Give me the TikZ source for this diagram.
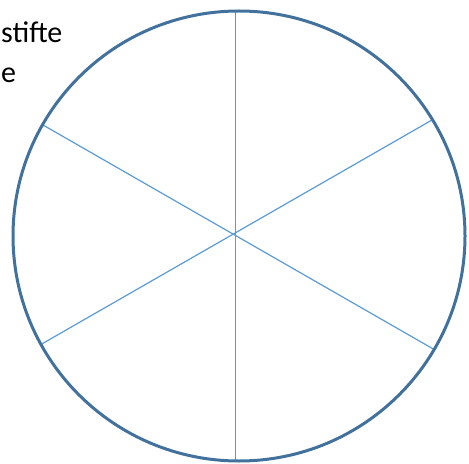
\documentclass[tikz,border=0pt]{standalone}
\usepackage{fontspec}
\setmainfont{Carlito}
\definecolor{rimblue}{HTML}{41719C}
\definecolor{spokeblue}{HTML}{5B9BD5}
\tikzset{
  rim/.style={draw=rimblue, line width=3bp},
  spoke/.style={draw=spokeblue, line width=1.2bp},
  label/.style={inner sep=0pt, font=\fontsize{30bp}{40bp}\selectfont, anchor=base west}
}
\begin{document}
\begin{tikzpicture}[x=1bp,y=-1bp]
\useasboundingbox (0,0) rectangle (469,464);
\coordinate (c) at (239,236);
\coordinate (t) at (235.5,11);
\coordinate (b) at (235.5,461);
\coordinate (ul) at (43,125);
\coordinate (lr) at (435,350);
\coordinate (ur) at (432,120);
\coordinate (ll) at (40,345);
\draw[spoke] (t) -- (b);
\draw[spoke] (ul) -- (lr);
\draw[spoke] (ur) -- (ll);
\draw[rim] (c) ellipse [x radius=226, y radius=225];
\node[label] (l1) at (1,43) {stifte};
\node[label] (l2) at (1,83) {e};
\end{tikzpicture}
\end{document}
